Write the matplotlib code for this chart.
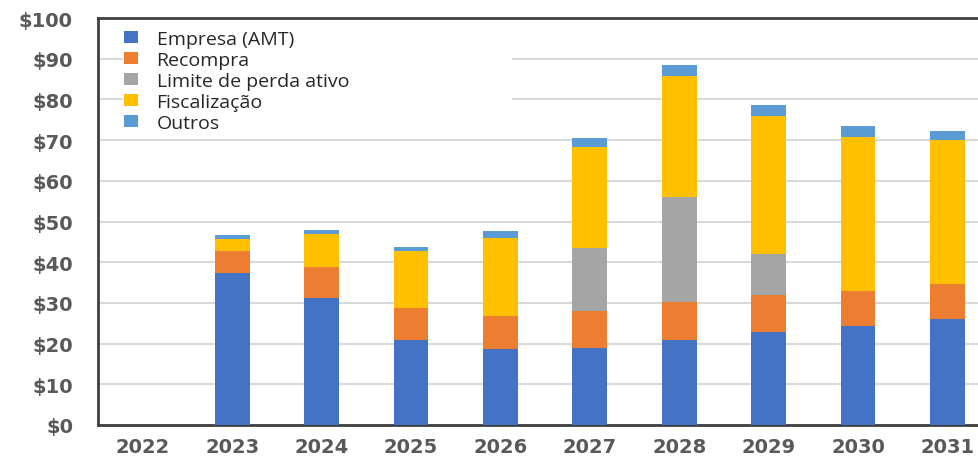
import matplotlib
matplotlib.use("Agg")
import matplotlib.pyplot as plt
from matplotlib.patches import Patch, Rectangle
import numpy as np

years = ["2022", "2023", "2024", "2025", "2026", "2027", "2028", "2029", "2030", "2031"]
series_names = ["Empresa (AMT)", "Recompra", "Limite de perda ativo", "Fiscalização", "Outros"]
empresa = [0, 37.4, 31.2, 20.9, 18.7, 18.9, 20.9, 22.8, 24.3, 26.0]
recompra = [0, 5.4, 7.6, 7.8, 8.1, 9.1, 9.3, 9.1, 8.7, 8.6]
limite = [0, 0, 0, 0, 0, 15.5, 25.8, 10.1, 0, 0]
fiscal = [0, 2.9, 8.2, 14.0, 19.2, 24.8, 29.7, 33.9, 37.7, 35.5]
outros = [0, 1.1, 1.0, 1.0, 1.7, 2.2, 2.7, 2.7, 2.7, 2.1]
colors = ["#4472C4", "#ED7D31", "#A5A5A5", "#FFC000", "#5B9BD5"]
yticks = [0, 10, 20, 30, 40, 50, 60, 70, 80, 90, 100]
ytick_labels = ["$0", "$10", "$20", "$30", "$40", "$50", "$60", "$70", "$80", "$90", "$100"]

W, H = 979, 460
fig = plt.figure(figsize=(W / 100, H / 100), dpi=100)
left_px, right_px, top_px, bot_px = 98, 1010, 19, 426
ax = fig.add_axes([left_px / W, 1 - bot_px / H, (right_px - left_px) / W, (bot_px - top_px) / H])

x = np.arange(len(years))
bottom = np.zeros(len(years))
for vals, c, name in zip([empresa, recompra, limite, fiscal, outros], colors, series_names):
    ax.bar(x, vals, width=0.39, bottom=bottom, color=c, zorder=3, label=name)
    bottom += np.array(vals)

ax.set_ylim(0, 100)
ax.set_xlim(-0.5, 9.7)
ax.set_yticks(yticks)
ax.set_yticklabels(ytick_labels)
ax.set_xticks(x)
ax.set_xticklabels(years)
for lab in ax.get_xticklabels() + ax.get_yticklabels():
    lab.set_fontfamily("DejaVu Sans")
    lab.set_fontweight("bold")
    lab.set_fontsize(14)
    lab.set_color("#595959")
ax.tick_params(axis="both", length=0)
ax.tick_params(axis="y", pad=18)
ax.tick_params(axis="x", pad=9)
ax.yaxis.grid(True, color="#D9D9D9", linewidth=1.5, zorder=0)
ax.set_axisbelow(True)
for s in ["left", "bottom", "top"]:
    ax.spines[s].set_color("#404040")
    ax.spines[s].set_linewidth(2)
ax.spines["right"].set_visible(False)

# white panel behind the legend (hides gridlines there)
fig.patches.append(Rectangle((123 / W, 1 - 135 / H), (512 - 123) / W, (135 - 21) / H,
                             transform=fig.transFigure, facecolor="white",
                             edgecolor="none", zorder=2))

handles = [Patch(facecolor=c, edgecolor="none") for c in colors]
leg = fig.legend(handles, series_names, loc="upper left",
                 bbox_to_anchor=(108 / W, 1 - 15 / H), frameon=False,
                 prop={"family": "Open Sans", "size": 14},
                 handlelength=0.75, handleheight=0.55, handletextpad=0.95,
                 labelspacing=0.16, borderpad=0.3)
leg.set_zorder(5)
for t in leg.get_texts():
    t.set_color("#262626")

fig.savefig("out.png", dpi=100)
